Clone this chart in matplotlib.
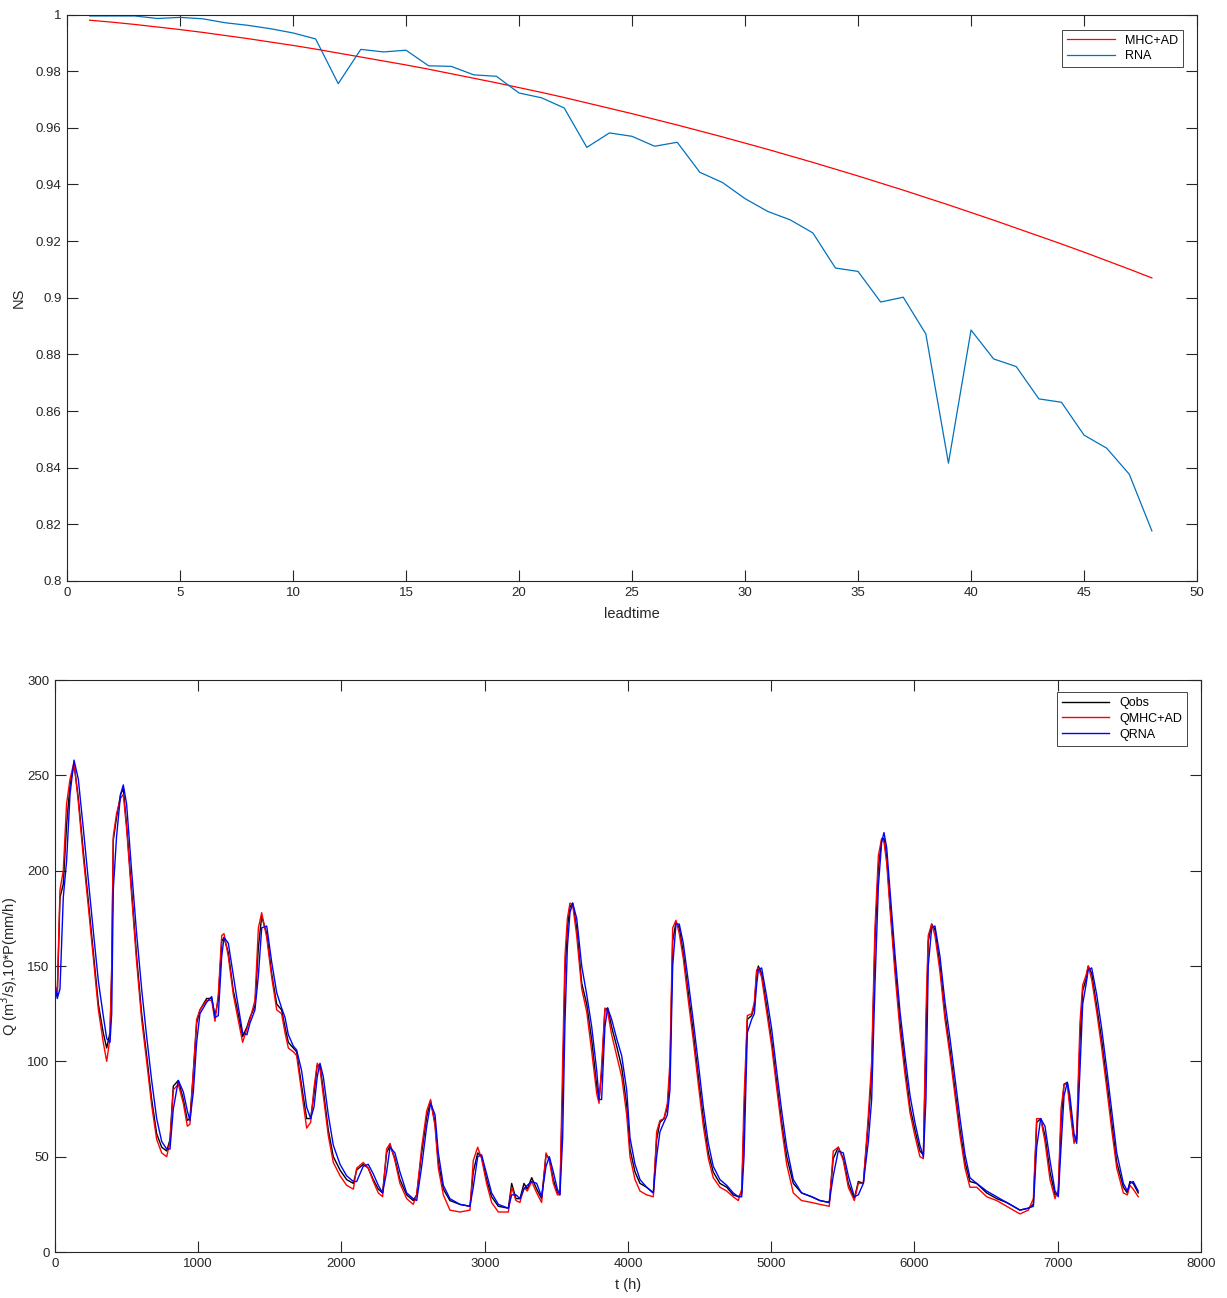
import matplotlib
matplotlib.use("Agg")
import matplotlib.pyplot as plt
from matplotlib.ticker import FuncFormatter

plt.rcParams['font.family'] = ['Liberation Sans', 'DejaVu Sans']

# ---------------- top panel data ----------------
leadtime = list(range(1, 49))
ns_mhc = [0.9980, 0.9973, 0.9965, 0.9956, 0.9947, 0.9937, 0.9926, 0.9915, 0.9903, 0.9891,
          0.9878, 0.9864, 0.9850, 0.9836, 0.9822, 0.9807, 0.9791, 0.9775, 0.9759, 0.9742,
          0.9725, 0.9707, 0.9688, 0.9669, 0.9650, 0.9630, 0.9610, 0.9589, 0.9568, 0.9546,
          0.9524, 0.9501, 0.9478, 0.9454, 0.9430, 0.9405, 0.9380, 0.9354, 0.9328, 0.9301,
          0.9274, 0.9246, 0.9218, 0.9190, 0.9161, 0.9131, 0.9101, 0.9070]
ns_rna = [0.9995, 0.9995, 0.9995, 0.9986, 0.9990, 0.9985, 0.9971, 0.9962, 0.9950, 0.9935,
          0.9914, 0.9756, 0.9877, 0.9868, 0.9874, 0.9819, 0.9817, 0.9787, 0.9782, 0.9723,
          0.9706, 0.9670, 0.9531, 0.9582, 0.9570, 0.9535, 0.9549, 0.9443, 0.9407, 0.9350,
          0.9305, 0.9275, 0.9229, 0.9105, 0.9093, 0.8985, 0.9002, 0.8872, 0.8416, 0.8886,
          0.8784, 0.8757, 0.8643, 0.8631, 0.8515, 0.8469, 0.8377, 0.8177]

# ---------------- bottom panel data ----------------
t_h = [0, 16, 35, 58, 81, 105, 133, 163, 198, 233, 268, 303, 337, 361, 384, 396, 407, 430, 458, 477,
       500, 535, 570, 605, 640, 675, 710, 745, 780, 803, 826, 861, 896, 924, 942, 966, 989, 1012, 1059, 1094,
       1117, 1140, 1164, 1180, 1210, 1245, 1268, 1310, 1340, 1361, 1396, 1420, 1443, 1478, 1513, 1548, 1582, 1606, 1629, 1664,
       1687, 1722, 1757, 1785, 1808, 1831, 1850, 1873, 1908, 1943, 1990, 2036, 2083, 2106, 2152, 2187, 2222, 2257, 2287, 2315,
       2339, 2373, 2408, 2455, 2501, 2525, 2560, 2595, 2622, 2653, 2676, 2711, 2757, 2827, 2897, 2920, 2951, 2978, 3013, 3048,
       3095, 3165, 3188, 3218, 3246, 3274, 3297, 3328, 3363, 3397, 3428, 3451, 3479, 3507, 3525, 3544, 3560, 3577, 3595, 3614,
       3642, 3677, 3712, 3747, 3782, 3798, 3816, 3839, 3858, 3886, 3921, 3956, 3991, 4014, 4049, 4084, 4130, 4177, 4200, 4223,
       4251, 4275, 4293, 4312, 4335, 4358, 4386, 4421, 4456, 4491, 4526, 4561, 4595, 4642, 4689, 4735, 4770, 4794, 4810, 4833,
       4863, 4882, 4898, 4910, 4933, 4968, 5003, 5038, 5073, 5108, 5154, 5212, 5282, 5340, 5405, 5433, 5468, 5503, 5538, 5580,
       5608, 5643, 5678, 5701, 5724, 5748, 5771, 5787, 5806, 5829, 5864, 5899, 5934, 5969, 6003, 6038, 6062, 6080, 6096, 6120,
       6143, 6178, 6213, 6248, 6283, 6318, 6353, 6387, 6434, 6504, 6574, 6643, 6667, 6736, 6795, 6830, 6853, 6881, 6911, 6946,
       6981, 7004, 7023, 7044, 7067, 7085, 7114, 7132, 7155, 7174, 7197, 7213, 7237, 7272, 7307, 7342, 7377, 7412, 7458, 7486,
       7504, 7527, 7562]
q_obs = [139, 134, 186, 193, 224, 245, 256, 238, 210, 184, 157, 130, 115, 107, 115, 146, 216, 228, 240, 243,
         224, 190, 155, 125, 103, 80, 62, 55, 53, 59, 87, 90, 80, 69, 70, 94, 120, 127, 133, 133,
         124, 132, 163, 165, 157, 137, 129, 113, 118, 123, 129, 160, 176, 167, 146, 130, 127, 118, 110, 107,
         105, 87, 70, 70, 83, 98, 98, 85, 64, 50, 43, 38, 36, 43, 46, 44, 38, 33, 31, 52,
         56, 49, 38, 30, 27, 30, 52, 71, 79, 68, 47, 33, 27, 25, 24, 42, 52, 50, 38, 29,
         24, 23, 36, 28, 28, 36, 33, 39, 33, 28, 51, 49, 38, 31, 31, 85, 146, 170, 181, 183,
         170, 141, 130, 111, 87, 80, 94, 127, 128, 118, 108, 97, 77, 54, 42, 36, 34, 31, 59, 68,
         70, 76, 94, 163, 173, 170, 157, 136, 115, 92, 70, 52, 42, 36, 34, 30, 29, 31, 68, 122,
         124, 129, 146, 150, 146, 129, 111, 89, 68, 50, 36, 31, 29, 27, 26, 49, 55, 49, 36, 28,
         37, 36, 68, 94, 163, 202, 216, 217, 207, 183, 150, 120, 97, 76, 64, 53, 51, 111, 163, 172,
         169, 150, 125, 106, 85, 64, 47, 37, 36, 31, 28, 26, 25, 22, 23, 25, 68, 70, 61, 42,
         30, 31, 68, 88, 89, 78, 58, 59, 111, 137, 143, 150, 146, 129, 111, 90, 68, 47, 34, 31,
         37, 36, 31]
q_mhc = [140, 136, 190, 200, 235, 248, 257, 236, 207, 181, 154, 127, 110, 100, 112, 150, 218, 230, 238, 240,
         222, 187, 152, 122, 100, 77, 59, 52, 50, 58, 85, 88, 78, 66, 67, 95, 122, 127, 132, 132,
         121, 135, 166, 167, 155, 135, 126, 110, 117, 122, 132, 170, 178, 165, 144, 127, 125, 115, 107, 105,
         103, 84, 65, 68, 86, 99, 96, 82, 61, 47, 40, 35, 33, 44, 47, 44, 37, 31, 29, 54,
         57, 48, 36, 28, 25, 30, 55, 74, 80, 66, 44, 30, 22, 21, 22, 48, 55, 49, 36, 26,
         21, 21, 34, 27, 26, 34, 32, 37, 31, 26, 52, 48, 36, 30, 30, 100, 155, 175, 183, 182,
         166, 138, 126, 105, 83, 78, 98, 128, 126, 114, 103, 92, 72, 50, 38, 32, 30, 29, 63, 69,
         70, 78, 100, 170, 174, 167, 154, 132, 111, 88, 66, 49, 39, 34, 32, 29, 27, 33, 80, 124,
         125, 131, 148, 149, 144, 126, 108, 86, 65, 46, 31, 27, 26, 25, 24, 53, 55, 48, 34, 27,
         36, 36, 72, 100, 170, 208, 217, 215, 204, 180, 146, 116, 93, 73, 61, 50, 49, 125, 166, 172,
         166, 147, 122, 103, 82, 61, 44, 34, 34, 29, 27, 24, 23, 20, 22, 28, 70, 70, 58, 38,
         28, 33, 75, 88, 88, 75, 57, 62, 120, 140, 145, 150, 143, 126, 107, 86, 64, 44, 31, 30,
         35, 33, 29]
q_rna = [140, 133, 138, 186, 205, 240, 258, 248, 222, 195, 168, 142, 124, 112, 110, 125, 190, 218, 240, 245,
         235, 200, 167, 138, 113, 90, 70, 58, 54, 54, 75, 90, 84, 74, 69, 84, 110, 125, 131, 134,
         123, 124, 155, 165, 162, 145, 134, 115, 114, 120, 127, 145, 170, 171, 152, 136, 128, 123, 114, 108,
         106, 95, 76, 70, 76, 92, 99, 92, 72, 56, 46, 40, 37, 37, 45, 46, 41, 35, 31, 42,
         55, 52, 42, 31, 28, 27, 45, 66, 78, 72, 52, 35, 28, 25, 24, 34, 50, 51, 41, 31,
         25, 23, 30, 30, 28, 33, 35, 37, 36, 29, 45, 50, 42, 33, 30, 60, 120, 160, 178, 183,
         175, 150, 135, 118, 95, 80, 80, 118, 128, 122, 112, 103, 85, 60, 46, 38, 34, 31, 50, 63,
         68, 72, 85, 150, 172, 172, 162, 142, 121, 99, 76, 57, 45, 38, 35, 31, 29, 29, 50, 115,
         122, 125, 140, 148, 149, 134, 117, 95, 74, 55, 38, 31, 29, 27, 26, 40, 53, 52, 40, 29,
         30, 36, 58, 80, 140, 192, 215, 220, 212, 190, 156, 126, 103, 82, 68, 56, 50, 80, 150, 170,
         171, 155, 131, 112, 91, 70, 51, 39, 36, 32, 29, 26, 25, 22, 23, 24, 55, 70, 66, 48,
         32, 29, 55, 82, 89, 82, 62, 57, 95, 130, 140, 148, 149, 135, 117, 96, 74, 52, 36, 32,
         36, 37, 32]

# ---------------- figure ----------------
fig = plt.figure(figsize=(12.27, 12.98), dpi=100)
axc = (0.15, 0.15, 0.15)


def style(ax):
    for s in ax.spines.values():
        s.set_color(axc)
        s.set_linewidth(0.8)
    ax.tick_params(direction='in', length=8, width=0.8, top=True, right=True,
                   colors=axc, labelsize=9.5, labelcolor=axc, pad=4)


ax1 = fig.add_axes([0.0546, 0.5524, 0.921, 0.4364])
ax1.plot(leadtime, ns_mhc, color=(1, 0, 0), lw=0.9, label='MHC+AD')
ax1.plot(leadtime, ns_rna, color=(0, 0.447, 0.741), lw=0.9, label='RNA')
ax1.set_xlim(0, 50)
ax1.set_ylim(0.8, 1.0)
ax1.set_xticks(range(0, 51, 5))
ax1.set_yticks([0.8 + 0.02 * i for i in range(11)])
ax1.yaxis.set_major_formatter(FuncFormatter(lambda v, p: '%g' % round(v, 2)))
ax1.set_xlabel('leadtime', fontsize=10.5, color=axc, labelpad=6)
ax1.set_ylabel('NS', fontsize=10.5, color=axc)
ax1.yaxis.set_label_coords(-0.0363, 0.5)
style(ax1)
leg1 = ax1.legend(loc='upper right', bbox_to_anchor=(0.9876, 0.9735), borderaxespad=0,
                  fontsize=9, handlelength=3.8, fancybox=False, framealpha=1,
                  edgecolor=(0.15, 0.15, 0.15), borderpad=0.4, labelspacing=0.3)
leg1.get_frame().set_linewidth(0.6)

ax2 = fig.add_axes([0.0448, 0.0354, 0.934, 0.4407])
ax2.plot(t_h, q_obs, color='black', lw=1.0, label='Qobs')
ax2.plot(t_h, q_mhc, color=(1, 0, 0), lw=1.0, label='QMHC+AD')
ax2.plot(t_h, q_rna, color=(0, 0, 1), lw=1.0, label='QRNA')
ax2.set_xlim(0, 8000)
ax2.set_ylim(0, 300)
ax2.set_xticks(range(0, 8001, 1000))
ax2.set_yticks(range(0, 301, 50))
ax2.set_xlabel('t (h)', fontsize=10.5, color=axc, labelpad=6)
ax2.set_ylabel('Q (m$^3$/s),10*P(mm/h)', fontsize=10.5, color=axc)
ax2.yaxis.set_label_coords(-0.0305, 0.5)
style(ax2)
leg2 = ax2.legend(loc='upper right', bbox_to_anchor=(0.9878, 0.979), borderaxespad=0,
                  fontsize=9, handlelength=3.8, fancybox=False, framealpha=1,
                  edgecolor=(0.15, 0.15, 0.15), borderpad=0.4, labelspacing=0.3)
leg2.get_frame().set_linewidth(0.6)

fig.savefig('out.png', dpi=100)
